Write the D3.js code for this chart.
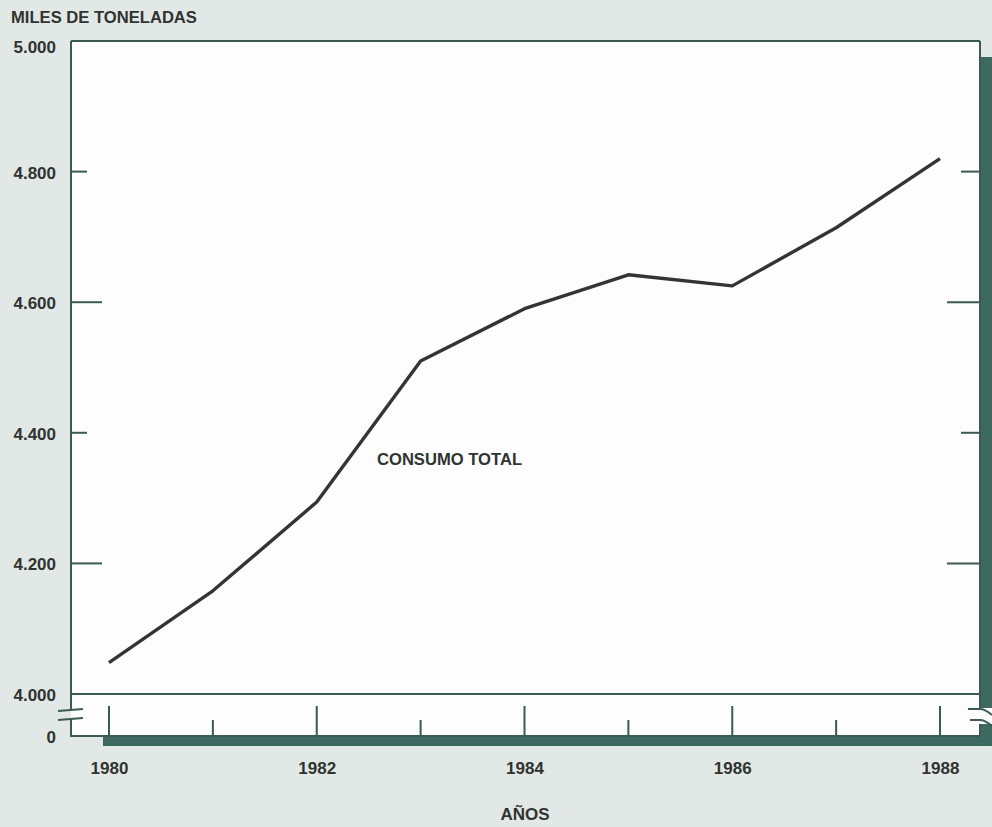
<!DOCTYPE html>
<html>
<head>
<meta charset="utf-8">
<script src="https://cdn.jsdelivr.net/npm/d3@7/dist/d3.min.js"></script>
<style>
  html, body { margin: 0; padding: 0; background: #e2e8e5; }
  svg { display: block; }
  text { font-family: "Liberation Sans", Arial, Helvetica, sans-serif; font-weight: bold; fill: #2f3331; }
</style>
</head>
<body>
<svg id="chart" width="992" height="827"></svg>
<script>
// ---- data ----
const years = [1980, 1981, 1982, 1983, 1984, 1985, 1986, 1987, 1988];
const consumo = [4048, 4158, 4294, 4510, 4590, 4642, 4625, 4714, 4820];
const yTicks = [4000, 4200, 4400, 4600, 4800, 5000];
const xLabelYears = [1980, 1982, 1984, 1986, 1988];
const seriesLabel = "CONSUMO TOTAL";
const yTitle = "MILES DE TONELADAS";
const xTitle = "AÑOS";

// ---- layout ----
const frameL = 71, frameR = 980, frameT = 41, zeroY = 736;
const ink = "#3b5a53", shadow = "#3e6961", lineInk = "#333533";
const fs = "17px";

const svg = d3.select("#chart");
const x = d3.scaleLinear().domain([1980, 1988]).range([109, 940]);
const y = d3.scaleLinear().domain([4000, 5000]).range([694, frameT]);
const loc = d3.formatLocale({decimal: ",", thousands: ".", grouping: [3], currency: ["", ""]});
const fmt = loc.format(",");

// shadow bands
svg.append("rect").attr("x", frameR).attr("y", 57).attr("width", 12).attr("height", zeroY + 10 - 57).attr("fill", shadow);
svg.append("rect").attr("x", 103).attr("y", zeroY).attr("width", 992 - 103).attr("height", 10).attr("fill", shadow);

// white plot area
svg.append("rect").attr("x", frameL).attr("y", frameT).attr("width", frameR - frameL).attr("height", zeroY - frameT)
  .attr("fill", "#fcfdfc");

// frame lines
const g = svg.append("g").attr("stroke", ink).attr("stroke-width", 2).attr("fill", "none");
g.append("line").attr("x1", frameL).attr("x2", frameR).attr("y1", frameT).attr("y2", frameT);
g.append("line").attr("x1", frameR).attr("x2", frameR).attr("y1", frameT).attr("y2", zeroY);
g.append("line").attr("x1", frameL).attr("x2", frameL).attr("y1", frameT).attr("y2", 710);
g.append("line").attr("x1", frameL).attr("x2", frameL).attr("y1", 719).attr("y2", zeroY);
g.append("line").attr("x1", frameL - 1).attr("x2", frameR).attr("y1", zeroY).attr("y2", zeroY);
g.append("line").attr("x1", frameL).attr("x2", frameR).attr("y1", y(4000)).attr("y2", y(4000));

// left break marks
g.append("line").attr("x1", 58).attr("x2", 83).attr("y1", 711).attr("y2", 709);
g.append("line").attr("x1", 58).attr("x2", 83).attr("y1", 720).attr("y2", 718);

// right break mark
svg.append("path").attr("d", "M968,708 L992,708 L992,724 L968,724 Z").attr("fill", "#fcfdfc");
svg.append("path").attr("d", "M968,709 L980,709 Q985,709 992,715").attr("stroke", ink).attr("stroke-width", 2).attr("fill", "none");
svg.append("path").attr("d", "M970,720 L980,720 Q985,720 992,726").attr("stroke", ink).attr("stroke-width", 2).attr("fill", "none");

// y ticks (inner, both sides)
const innerTicks = yTicks.filter(v => v > 4000 && v < 5000);
const tickLenL = v => (v / 200) % 2 === 1 ? 31 : 16;
const tickLenR = v => (v / 200) % 2 === 1 ? 33 : 19;
g.selectAll(".tl").data(innerTicks).join("line")
  .attr("x1", frameL).attr("x2", v => frameL + tickLenL(v))
  .attr("y1", v => y(v)).attr("y2", v => y(v));
g.selectAll(".tr").data(innerTicks).join("line")
  .attr("x1", frameR).attr("x2", v => frameR - tickLenR(v))
  .attr("y1", v => y(v)).attr("y2", v => y(v));

// x ticks (upward from the zero line)
g.selectAll(".tx").data(years).join("line")
  .attr("x1", d => x(d)).attr("x2", d => x(d))
  .attr("y1", zeroY).attr("y2", d => (d % 2 === 0 ? 706 : 720));

// y labels via axis
const yAxis = d3.axisLeft(y).tickValues(yTicks).tickSize(0).tickPadding(0).tickFormat(fmt);
const ya = svg.append("g").attr("transform", "translate(56,0)").call(yAxis);
ya.select(".domain").remove();
ya.selectAll("text").style("font-size", fs).style("font-family", "Liberation Sans, Arial, sans-serif")
  .style("font-weight", "bold").attr("fill", "#2f3331").attr("dy", "0.38em");
ya.selectAll(".tick").filter(d => d === 5000).select("text").attr("dy", "0.68em");
svg.append("text").attr("x", 56).attr("y", zeroY + 1).attr("dy", "0.38em").attr("text-anchor", "end")
  .style("font-size", fs).text("0");

// x labels via axis
const xAxis = d3.axisBottom(x).tickValues(xLabelYears).tickSize(0).tickPadding(0).tickFormat(d3.format("d"));
const xa = svg.append("g").attr("transform", "translate(0,762)").call(xAxis);
xa.select(".domain").remove();
xa.selectAll("text").style("font-size", fs).style("font-family", "Liberation Sans, Arial, sans-serif")
  .style("font-weight", "bold").attr("fill", "#2f3331").attr("dy", "0.71em");

// titles
svg.append("text").attr("x", 11).attr("y", 23).style("font-size", "16.6px").text(yTitle);
svg.append("text").attr("x", 525).attr("y", 820).attr("text-anchor", "middle").style("font-size", fs).text(xTitle);

// series line
const line = d3.line().x((d, i) => x(years[i])).y(d => y(d));
svg.append("path").datum(consumo).attr("d", line)
  .attr("fill", "none").attr("stroke", lineInk).attr("stroke-width", 3.4).attr("stroke-linejoin", "round");

// series label
svg.append("text").attr("x", 377).attr("y", 465).style("font-size", "16.6px").text(seriesLabel);
</script>
</body>
</html>
